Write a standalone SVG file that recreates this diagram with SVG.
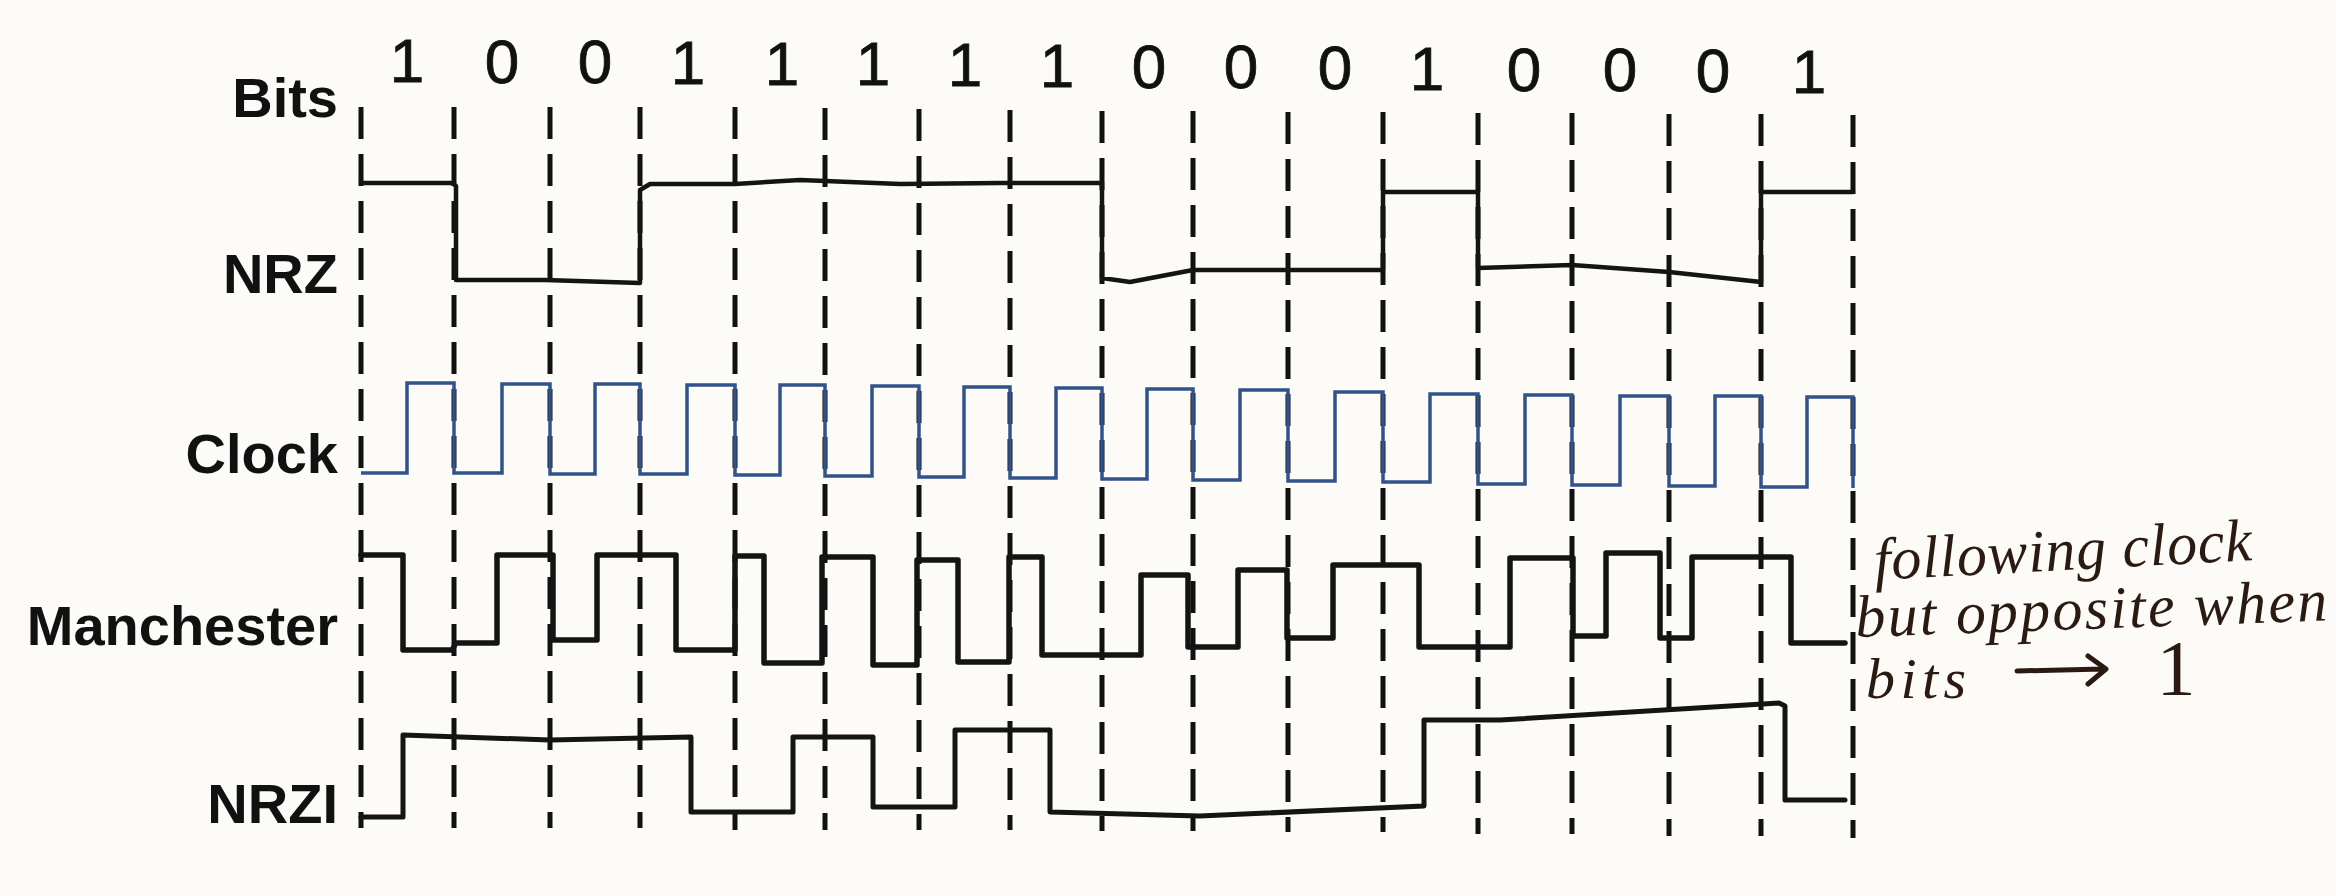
<svg xmlns="http://www.w3.org/2000/svg" width="2336" height="896" viewBox="0 0 2336 896">
<style>
.lbl{font-family:"Liberation Sans",Arial,sans-serif;font-weight:bold;font-size:56px;fill:#111;text-anchor:end}
.bit{font-family:"Liberation Sans",Arial,sans-serif;font-size:62px;fill:#111;text-anchor:middle;stroke:#111;stroke-width:0.8}
.grid{stroke:#111;stroke-width:5;stroke-dasharray:32 15;fill:none}
.wave{fill:none;stroke:#141414;stroke-width:4.5;stroke-linejoin:round;stroke-linecap:round}
.clk{fill:none;stroke:#30538c;stroke-width:3.5;stroke-linejoin:miter}
.note{font-family:"Liberation Serif","Times New Roman",serif;font-style:italic;fill:#2b1a12}
</style>
<rect width="2336" height="896" fill="#fdfbf7"/>
<g id="labels">
<text class="lbl" x="338" y="117">Bits</text>
<text class="lbl" x="338" y="293">NRZ</text>
<text class="lbl" x="338" y="473">Clock</text>
<text class="lbl" x="338" y="645">Manchester</text>
<text class="lbl" x="338" y="823">NRZI</text>
</g>
<g id="bits">
<text class="bit" x="407" y="82">1</text>
<text class="bit" x="502" y="83">0</text>
<text class="bit" x="595" y="83">0</text>
<text class="bit" x="688" y="84">1</text>
<text class="bit" x="782" y="85">1</text>
<text class="bit" x="873" y="85">1</text>
<text class="bit" x="965" y="86">1</text>
<text class="bit" x="1057" y="87">1</text>
<text class="bit" x="1149" y="88">0</text>
<text class="bit" x="1241" y="88">0</text>
<text class="bit" x="1335" y="89">0</text>
<text class="bit" x="1427" y="90">1</text>
<text class="bit" x="1524" y="91">0</text>
<text class="bit" x="1620" y="91">0</text>
<text class="bit" x="1713" y="92">0</text>
<text class="bit" x="1809" y="93">1</text>
</g>
<g id="gridlines">
<line class="grid" x1="361" y1="107" x2="361" y2="828"/>
<line class="grid" x1="454" y1="107" x2="454" y2="828"/>
<line class="grid" x1="550" y1="107" x2="550" y2="828"/>
<line class="grid" x1="640" y1="107" x2="640" y2="828"/>
<line class="grid" x1="735" y1="107" x2="735" y2="830"/>
<line class="grid" x1="825" y1="108" x2="825" y2="830"/>
<line class="grid" x1="919" y1="109" x2="919" y2="830"/>
<line class="grid" x1="1010" y1="110" x2="1010" y2="830"/>
<line class="grid" x1="1102" y1="111" x2="1102" y2="831"/>
<line class="grid" x1="1193" y1="111" x2="1193" y2="831"/>
<line class="grid" x1="1288" y1="112" x2="1288" y2="832"/>
<line class="grid" x1="1383" y1="112" x2="1383" y2="832"/>
<line class="grid" x1="1478" y1="113" x2="1478" y2="834"/>
<line class="grid" x1="1572" y1="113" x2="1572" y2="834"/>
<line class="grid" x1="1669" y1="114" x2="1669" y2="836"/>
<line class="grid" x1="1761" y1="114" x2="1761" y2="836"/>
<line class="grid" x1="1853" y1="115" x2="1853" y2="838"/>
</g>
<g id="nrz">
<path class="wave" d="M361,183 H452 L456,186 V280 H545 L640,283 V190 L650,184 H735 L800,180 L900,184 L1000,183 H1102 V278 L1130,282 L1193,270 H1383 V192 H1478 V268 L1572,265 L1669,272 L1761,282 V192 H1853"/>
</g>
<g id="clock">
<path class="clk" d="M361,473 H407 V383 H454 V473 H502 V384 H550 V474 H595 V384 H640 V474 H687 V385 H735 V475 H780 V385 H825 V476 H872 V386 H919 V477 H964 V387 H1010 V478 H1056 V388 H1102 V479 H1147 V389 H1193 V480 H1240 V390 H1288 V481 H1335 V392 H1383 V482 H1430 V394 H1478 V484 H1525 V395 H1572 V485 H1620 V396 H1669 V486 H1715 V396 H1761 V487 H1807 V397 H1853 V488"/>
</g>
<g id="manchester">
<path class="wave" style="stroke-width:5.5" d="M361,555 H403 V650 H452 L456,643 H497 V555 H553 V640 H597 V555 H676 V650 H735 V556 H764 V663 H822 V557 H873 V665 H917 V560 H958 V662 H1009 V557 H1042 V655 H1141 V575 H1188 V647 H1238 V570 H1287 V638 H1333 V565 H1419 V647 H1510 V558 H1573 V636 H1606 V553 H1660 V638 H1692 V557 H1791 V643 H1845"/>
</g>
<g id="nrzi">
<path class="wave" style="stroke-width:5" d="M361,817 H403 V735 L550,740 L691,737 V812 H793 V737 H873 V807 H955 V730 H1050 V812 L1200,816 L1424,806 V720 L1500,720 L1779,703 L1785,706 V800 H1845"/>
</g>
<g id="note">
<text class="note" x="1875" y="580" font-size="60" textLength="378" transform="rotate(-3 1875 580)">following clock</text>
<text class="note" x="1856" y="637" font-size="60" textLength="472" transform="rotate(-2 1856 637)">but opposite when</text>
<text class="note" x="1866" y="698" font-size="58" textLength="100">bits</text>
<path d="M2017,671 L2103,669 M2088,656 L2106,669 L2088,684" fill="none" stroke="#2b1a12" stroke-width="5" stroke-linecap="round" stroke-linejoin="round"/>
<text class="note" x="2176" y="694" font-size="78" text-anchor="middle" style="font-style:normal">1</text>
</g>
</svg>
